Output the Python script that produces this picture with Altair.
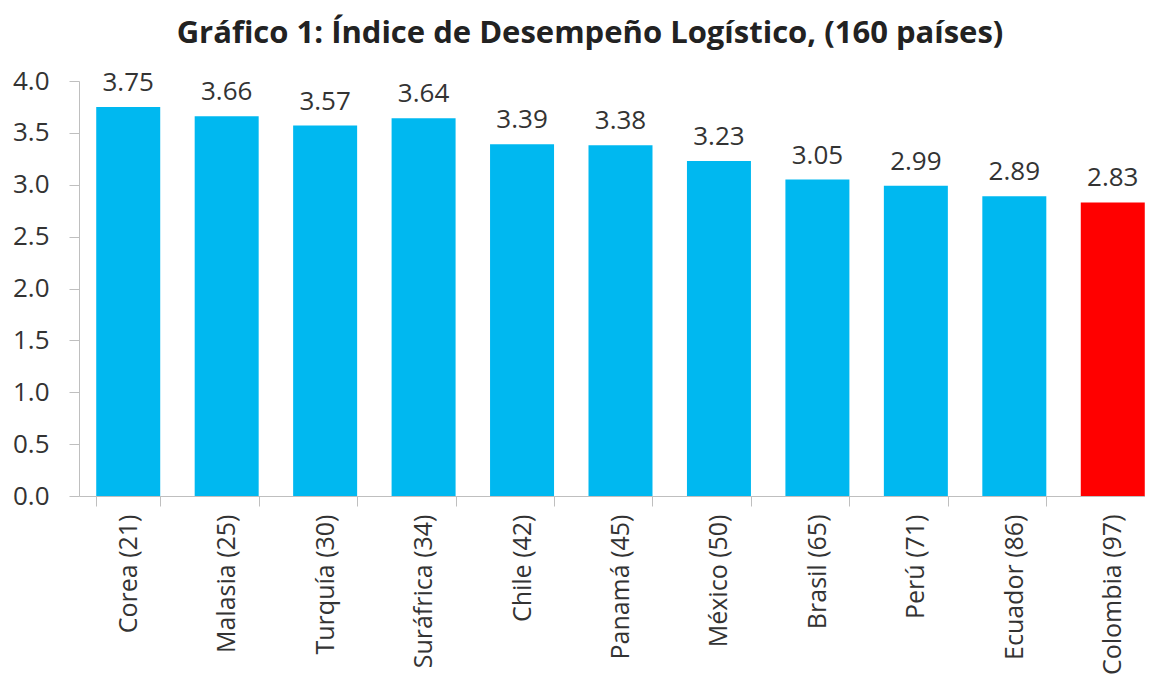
import altair as alt
import pandas as pd

paises = ["Corea (21)", "Malasia (25)", "Turquía (30)", "Suráfrica (34)", "Chile (42)",
          "Panamá (45)", "México (50)", "Brasil (65)", "Perú (71)", "Ecuador (86)", "Colombia (97)"]
valores = [3.75, 3.66, 3.57, 3.64, 3.39, 3.38, 3.23, 3.05, 2.99, 2.89, 2.83]
grupo = ["otro"] * 10 + ["Colombia"]

df = pd.DataFrame({"pais": paises, "valor": valores, "grupo": grupo})

FONT = "Open Sans"
TXT = "#333333"
AX = "#BFBFBF"

x = alt.X("pais:N", sort=paises, title=None,
          scale=alt.Scale(range=[0, 1083], paddingInner=0.35, paddingOuter=0.175),
          axis=alt.Axis(labelAngle=-90, labelFont=FONT, labelFontSize=25, labelColor=TXT,
                        domainColor=AX, tickColor=AX, tickSize=10, tickBand="extent",
                        labelPadding=8, labelLimit=300))

base = alt.Chart(df).encode(x=x)

bars = base.mark_bar().encode(
    y=alt.Y("valor:Q", title=None,
            scale=alt.Scale(domain=[0, 4], nice=False),
            axis=alt.Axis(values=[0, 0.5, 1, 1.5, 2, 2.5, 3, 3.5, 4], format=".1f", grid=False,
                          labelFont=FONT, labelFontSize=26, labelColor=TXT,
                          domainColor=AX, tickColor=AX, tickSize=10, labelPadding=20)),
    color=alt.Color("grupo:N", scale=alt.Scale(domain=["otro", "Colombia"],
                                               range=["#00B8F0", "#FF0000"]), legend=None),
)

labels = base.mark_text(baseline="alphabetic", dy=-16, font=FONT, fontSize=26, color=TXT).encode(
    y=alt.Y("valor:Q"),
    text=alt.Text("valor:Q", format=".2f"),
)

chart = (bars + labels).properties(
    width=1066, height=415,
    autosize=alt.AutoSizeParams(type="none"),
    padding={"left": 71, "top": 73, "right": 0, "bottom": 180},
    title=alt.TitleParams("Gráfico 1: Índice de Desempeño Logístico, (160 países)",
                          font=FONT, fontSize=31, fontWeight="bold", color="#222222",
                          anchor="middle", dx=-22, offset=18),
).configure_view(stroke=None)

chart.save("out.html", embed_options={"renderer": "svg", "actions": False})
